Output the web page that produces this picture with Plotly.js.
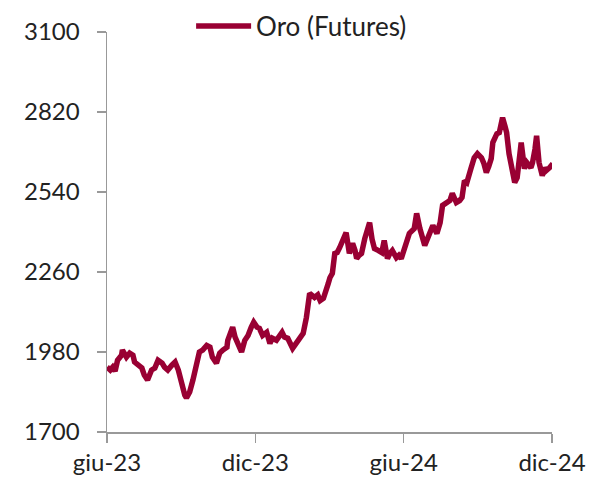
<!DOCTYPE html>
<html>
<head>
<meta charset="utf-8">
<script src="https://cdn.plot.ly/plotly-3.0.1.min.js"></script>
<style>html,body{margin:0;padding:0;background:#fff;}#chart{width:592px;height:485px;}</style>
</head>
<body>
<div id="chart"></div>
<script>
const seriesName = "Oro (Futures)";
const dates = [
"2023-06-01","2023-06-05","2023-06-08","2023-06-11","2023-06-14","2023-06-19","2023-06-20","2023-06-25","2023-06-29","2023-07-03",
"2023-07-05","2023-07-09","2023-07-14","2023-07-17","2023-07-21","2023-07-26","2023-07-30","2023-08-03","2023-08-08","2023-08-11",
"2023-08-15","2023-08-20","2023-08-24","2023-08-28","2023-09-01","2023-09-05","2023-09-07","2023-09-11","2023-09-15","2023-09-20",
"2023-09-23","2023-09-27","2023-10-02","2023-10-06","2023-10-09","2023-10-14","2023-10-18","2023-10-22","2023-10-27","2023-10-28",
"2023-11-02","2023-11-03","2023-11-06","2023-11-09","2023-11-14","2023-11-18","2023-11-22","2023-11-26","2023-11-29","2023-12-03",
"2023-12-06","2023-12-10","2023-12-15","2023-12-19","2023-12-22","2023-12-27","2024-01-03","2024-01-06","2024-01-10","2024-01-16",
"2024-01-21","2024-01-25","2024-01-29","2024-02-02","2024-02-06","2024-02-09","2024-02-12","2024-02-16","2024-02-19","2024-02-23",
"2024-02-26","2024-02-29","2024-03-02","2024-03-05","2024-03-08","2024-03-11","2024-03-14","2024-03-16","2024-03-20","2024-03-22",
"2024-03-26","2024-03-30","2024-04-02","2024-04-04","2024-04-07","2024-04-10","2024-04-14","2024-04-17","2024-04-20","2024-04-23",
"2024-04-26","2024-05-01","2024-05-05","2024-05-08","2024-05-12","2024-05-15","2024-05-18","2024-05-23","2024-05-26","2024-05-29",
"2024-06-02","2024-06-05","2024-06-08","2024-06-14","2024-06-17","2024-06-21","2024-06-24","2024-06-27","2024-07-01","2024-07-04",
"2024-07-07","2024-07-12","2024-07-16","2024-07-19","2024-07-24","2024-07-28","2024-07-31","2024-08-05","2024-08-09","2024-08-12",
"2024-08-15","2024-08-18","2024-08-23","2024-08-27","2024-08-31","2024-09-05","2024-09-08","2024-09-11","2024-09-14","2024-09-17",
"2024-09-19","2024-09-24","2024-09-27","2024-10-01","2024-10-04","2024-10-06","2024-10-09","2024-10-12","2024-10-16","2024-10-19",
"2024-10-22","2024-10-24","2024-10-28","2024-10-31","2024-11-05","2024-11-07","2024-11-10","2024-11-12","2024-11-15","2024-11-19",
"2024-11-22","2024-11-24","2024-11-28","2024-12-02"
];
const prices = [
1927,1917,1927,1913,1951,1969,1987,1962,1976,1969,
1945,1934,1924,1899,1882,1917,1924,1951,1941,1927,
1917,1934,1945,1917,1864,1829,1819,1840,1882,1945,
1980,1987,2003,1997,1962,1941,1976,1987,1997,2021,
2056,2067,2032,2014,1980,2021,2038,2067,2084,2067,
2063,2038,2049,2010,2028,2021,2049,2032,2028,1993,
2014,2032,2045,2101,2185,2178,2171,2180,2160,2168,
2188,2220,2240,2255,2325,2328,2345,2360,2395,2398,
2325,2360,2335,2307,2318,2325,2377,2410,2433,2375,
2342,2335,2328,2370,2307,2325,2335,2310,2318,2307,
2346,2370,2395,2412,2465,2412,2380,2353,2381,2405,
2423,2395,2433,2493,2503,2510,2535,2503,2510,2521,
2580,2573,2622,2660,2674,2660,2640,2608,2630,2657,
2713,2744,2748,2800,2770,2748,2674,2625,2573,2590,
2660,2713,2622,2643,2625,2643,2690,2737,2643,2597,
2625,2615,2625,2639
];
const yTicks = [1700,1980,2260,2540,2820,3100];
const xTickVals = ["2023-06-01","2023-12-01","2024-06-01","2024-12-01"];
const xTickText = ["giu-23","dic-23","giu-24","dic-24"];

const font = "Lato, 'Open Sans', sans-serif";
const trace = {
  x: dates, y: prices, type: "scatter", mode: "lines", name: seriesName,
  line: {color: "#990033", width: 5.5, shape: "linear"}
};
const layout = {
  width: 592, height: 485,
  margin: {l: 107, r: 40, t: 32, b: 53, autoexpand: false},
  paper_bgcolor: "#fff", plot_bgcolor: "#fff",
  font: {family: font, size: 24, color: "#222"},
  showlegend: true,
  legend: {orientation: "h", xref: "paper", x: 0.189, xanchor: "left",
           yref: "container", y: 1 - 26/485, yanchor: "middle",
           font: {family: font, size: 26, color: "#222"}, bgcolor: "rgba(0,0,0,0)", itemwidth: 55},
  xaxis: {
    type: "date", range: ["2023-06-01", "2024-12-01"],
    tickvals: xTickVals, ticktext: xTickText,
    showgrid: false, zeroline: false,
    showline: true, linecolor: "#999", linewidth: 1.5,
    ticks: "outside", ticklen: 9, tickcolor: "#999", tickwidth: 1.5,
    tickfont: {family: font, size: 24, color: "#222"}
  },
  yaxis: {
    range: [1700, 3100], tickvals: yTicks,
    showgrid: false, zeroline: false,
    showline: true, linecolor: "#999", linewidth: 1.5,
    ticks: "outside", ticklen: 9, tickcolor: "#999", tickwidth: 1.5,
    tickfont: {family: font, size: 24, color: "#222"},
    ticklabelstandoff: 12
  }
};
Plotly.newPlot("chart", [trace], layout, {displayModeBar: false, staticPlot: true});
</script>
</body>
</html>
